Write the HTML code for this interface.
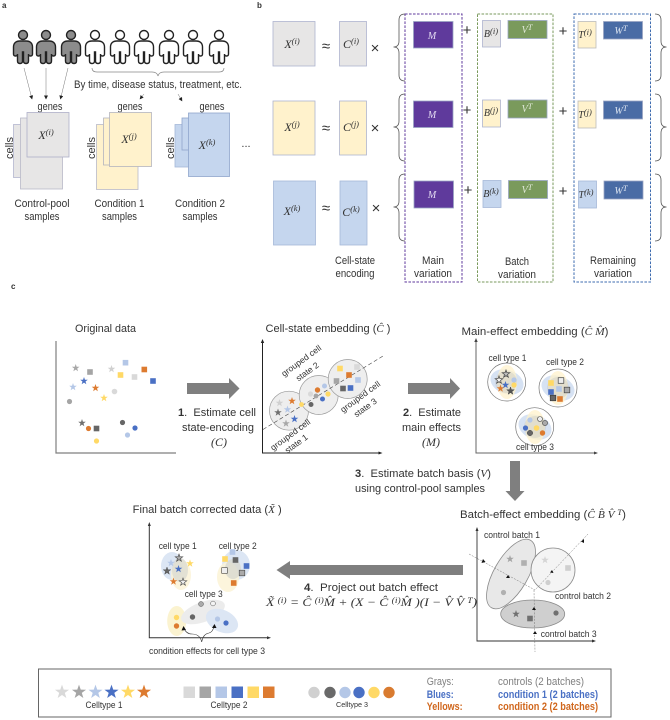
<!DOCTYPE html>
<html><head><meta charset="utf-8"><style>
html,body{margin:0;padding:0;background:#fff}
svg{display:block;filter:blur(.3px)}
text{font-family:"Liberation Sans",sans-serif;fill:#333;font-size:11px}
.m{text-anchor:middle}
.ser{font-family:"Liberation Serif",serif;font-style:italic;font-size:12px;text-anchor:middle}
.sup{font-size:8.5px}
.b{font-weight:bold}
.sm{font-size:9px}
.rot{font-size:8.5px;text-anchor:middle}
.op{font-size:15px}
</style></head><body>
<svg width="670" height="720" viewBox="0 0 670 720" xmlns="http://www.w3.org/2000/svg">
<defs>
<path id="s" d="M0,-4 .94,-1.29 3.8,-1.24 1.52,.49 2.35,3.24 0,1.6 -2.35,3.24 -1.52,.49 -3.8,-1.24 -.94,-1.29Z"/>
<rect id="q" x="-2.8" y="-2.8" width="5.6" height="5.6"/>
<path id="body" d="M-3,6 C-7,6 -9.5,8 -9.5,12 L-9.5,19 Q-9.5,21 -7.5,21 Q-5.5,21 -5.5,19 L-5.5,26 Q-5.5,28.5 -3,28.5 Q-.5,28.5 -.5,26 L-.5,17 L.5,17 L.5,26 Q.5,28.5 3,28.5 Q5.5,28.5 5.5,26 L5.5,19 Q5.5,21 7.5,21 Q9.5,21 9.5,19 L9.5,12 C9.5,8 7,6 3,6 Z"/>
<g id="pg" fill="#8c8c8c" stroke="#222" stroke-width="1.4"><circle r="4.5"/><use href="#body"/></g>
<g id="pw" fill="#fff" stroke="#222" stroke-width="1.4"><circle r="4.5"/><use href="#body"/></g>
<marker id="ah" markerWidth="4" markerHeight="4" refX="3.5" refY="2" orient="auto" markerUnits="userSpaceOnUse"><path d="M0,0 L4,2 L0,4Z" fill="#222"/></marker>
</defs>

<text x="2" y="8" class="b" style="font-size:8px">a</text>
<text x="257" y="8" class="b" style="font-size:8px">b</text>
<text x="11" y="289" class="b" style="font-size:8px">c</text>

<!-- panel a -->
<use href="#pg" x="23" y="35"/><use href="#pg" x="46" y="35"/><use href="#pg" x="71" y="35"/>
<use href="#pw" x="95" y="35"/><use href="#pw" x="120" y="35"/><use href="#pw" x="144" y="35"/><use href="#pw" x="169" y="35"/><use href="#pw" x="193" y="35"/><use href="#pw" x="219" y="35"/>
<g stroke="#777" stroke-width=".5" fill="none">
<line x1="24" y1="68" x2="32" y2="99" marker-end="url(#ah)"/>
<line x1="46" y1="68" x2="46" y2="99" marker-end="url(#ah)"/>
<line x1="68" y1="68" x2="60.5" y2="99" marker-end="url(#ah)"/>
<line x1="144" y1="94" x2="140" y2="99" marker-end="url(#ah)"/>
<line x1="178" y1="94" x2="182" y2="101" marker-end="url(#ah)"/>
<path d="M92,68 Q92,72 97,72 L152,72 Q157,72 158,76 Q159,72 164,72 L219,72 Q224,72 224,68" stroke="#888" stroke-width=".7"/>
</g>
<text x="74" y="88" textLength="168" lengthAdjust="spacingAndGlyphs">By time, disease status, treatment, etc.</text>
<text x="50" y="110" class="m" textLength="25" lengthAdjust="spacingAndGlyphs">genes</text>
<text x="130" y="110" class="m" textLength="25" lengthAdjust="spacingAndGlyphs">genes</text>
<text x="212" y="110" class="m" textLength="25" lengthAdjust="spacingAndGlyphs">genes</text>
<g stroke-width=".8">
<rect x="13.5" y="124.5" width="25" height="53" fill="#e7e6e6" stroke="#b4b7cf"/>
<rect x="20.5" y="118" width="42" height="71" fill="#e7e6e6" stroke="#b9b9c9"/>
<rect x="27" y="112.5" width="42" height="44.5" fill="#e7e6e6" stroke="#aeb0c9"/>
<rect x="96.5" y="124.5" width="41.5" height="65" fill="#fff2cc" stroke="#b9b9c9"/>
<rect x="103.5" y="118" width="30" height="47" fill="#fff2cc" stroke="#b4b4bf"/>
<rect x="109.5" y="112.5" width="42" height="54" fill="#fff2cc" stroke="#b4b4bf"/>
<rect x="175" y="124.5" width="25" height="42.5" fill="#c5d6ee" stroke="#a5b8d8"/>
<rect x="182" y="118" width="18" height="32" fill="#c5d6ee" stroke="#8fa6cc"/>
<rect x="188.5" y="113" width="41" height="63.5" fill="#c5d6ee" stroke="#8fa6cc"/>
</g>
<text class="ser" x="46" y="139">X<tspan class="sup" dy="-4">(i)</tspan></text>
<text class="ser" x="129" y="143">X<tspan class="sup" dy="-4">(j)</tspan></text>
<text class="ser" x="207" y="149">X<tspan class="sup" dy="-4">(k)</tspan></text>
<text transform="translate(13,148) rotate(-90)" class="m">cells</text>
<text transform="translate(95,148) rotate(-90)" class="m">cells</text>
<text transform="translate(174,148) rotate(-90)" class="m">cells</text>
<text x="246" y="147" class="m">...</text>
<text x="42" y="207" class="m" textLength="55" lengthAdjust="spacingAndGlyphs">Control-pool</text>
<text x="42" y="220" class="m" textLength="35" lengthAdjust="spacingAndGlyphs">samples</text>
<text x="119.5" y="207" class="m" textLength="50" lengthAdjust="spacingAndGlyphs">Condition 1</text>
<text x="119.5" y="220" class="m" textLength="35" lengthAdjust="spacingAndGlyphs">samples</text>
<text x="200" y="207" class="m" textLength="50" lengthAdjust="spacingAndGlyphs">Condition 2</text>
<text x="200" y="220" class="m" textLength="35" lengthAdjust="spacingAndGlyphs">samples</text>

<!-- panel b -->
<g stroke-width=".8">
<rect x="273" y="21.5" width="42" height="44.5" fill="#e7e6e6" stroke="#aeb4cf"/>
<rect x="339.5" y="21.5" width="27" height="44.5" fill="#e7e6e6" stroke="#aeb4cf"/>
<rect x="273" y="101" width="42" height="54" fill="#fff2cc" stroke="#aeb4cf"/>
<rect x="339.5" y="101" width="27" height="54" fill="#fff2cc" stroke="#aeb4cf"/>
<rect x="273.5" y="181" width="42" height="64" fill="#c5d6ee" stroke="#a5b8d8"/>
<rect x="340" y="181" width="27" height="64" fill="#c5d6ee" stroke="#a5b8d8"/>
<g fill="#5f3a9c" stroke="#9aa6c4">
<rect x="413.5" y="21.5" width="39.5" height="26.5"/><rect x="413.5" y="101" width="39.5" height="26.5"/><rect x="414" y="181" width="39.5" height="27"/>
</g>
<g fill="#7a9a5c" stroke="#9aa6c4">
<rect x="508" y="20.5" width="39" height="18"/><rect x="508" y="100" width="39" height="18"/><rect x="508.5" y="180.5" width="39" height="18"/>
</g>
<g fill="#4a6ca5" stroke="#9aa6c4">
<rect x="603.5" y="21.5" width="39" height="17.5"/><rect x="603.5" y="101" width="39" height="18"/><rect x="604" y="181" width="39" height="18"/>
</g>
<rect x="482.5" y="20.5" width="18" height="26.5" fill="#e7e6e6" stroke="#aeb4cf"/>
<rect x="482.5" y="100" width="18" height="27" fill="#fff2cc" stroke="#aeb4cf"/>
<rect x="483" y="180.5" width="18" height="27" fill="#c5d6ee" stroke="#a5b8d8"/>
<rect x="578" y="21.5" width="18" height="26.5" fill="#fff2cc" stroke="#bbb"/>
<rect x="578" y="101" width="18" height="27" fill="#fff2cc" stroke="#bbb"/>
<rect x="578.5" y="181" width="18" height="27" fill="#c5d6ee" stroke="#a5b8d8"/>
</g>
<g fill="none" stroke-width="1" stroke-dasharray="2.6 1.4">
<rect x="405" y="14" width="57" height="268" stroke="#5f3a9c"/>
<rect x="477.5" y="14" width="75.5" height="268" stroke="#7a9a5c"/>
<rect x="574" y="14" width="76.5" height="268" stroke="#3f6cb0"/>
</g>
<g fill="none" stroke="#555" stroke-width=".8">
<path d="M405,14 Q399,14 399,20 L399,41 Q399,47 393.5,47 Q399,47 399,53 L399,75 Q399,81 405,81"/>
<path d="M405,94 Q399,94 399,100 L399,121 Q399,127 393.5,127 Q399,127 399,133 L399,155 Q399,161 405,161"/>
<path d="M405,174 Q399,174 399,180 L399,201 Q399,207 393.5,207 Q399,207 399,213 L399,235 Q399,241 405,241"/>
<path d="M655,14 Q661,14 661,20 L661,41 Q661,47 666.5,47 Q661,47 661,53 L661,75 Q661,81 655,81"/>
<path d="M655,94 Q661,94 661,100 L661,121 Q661,127 666.5,127 Q661,127 661,133 L661,155 Q661,161 655,161"/>
<path d="M655,174 Q661,174 661,180 L661,201 Q661,207 666.5,207 Q661,207 661,213 L661,235 Q661,241 655,241"/>
</g>
<text class="ser" x="292" y="48">X<tspan class="sup" dy="-4">(i)</tspan></text>
<text class="ser" x="351" y="48">C<tspan class="sup" dy="-4">(i)</tspan></text>
<text class="ser" x="292" y="131">X<tspan class="sup" dy="-4">(j)</tspan></text>
<text class="ser" x="351" y="131">C<tspan class="sup" dy="-4">(j)</tspan></text>
<text class="ser" x="292" y="215">X<tspan class="sup" dy="-4">(k)</tspan></text>
<text class="ser" x="351" y="216">C<tspan class="sup" dy="-4">(k)</tspan></text>
<text x="326" y="51" class="m op">≈</text><text x="326" y="133" class="m op">≈</text><text x="326" y="213" class="m op">≈</text>
<text x="375" y="53" class="m op">×</text><text x="375" y="133" class="m op">×</text><text x="376" y="213" class="m op">×</text>
<text x="467" y="35" class="m op">+</text><text x="467" y="115" class="m op">+</text><text x="468" y="195" class="m op">+</text>
<text x="563" y="36" class="m op">+</text><text x="563" y="116" class="m op">+</text><text x="563" y="196" class="m op">+</text>
<text class="ser" x="432" y="39" style="fill:#e4dcf2;font-size:10px">M</text><text class="ser" x="432" y="118" style="fill:#e4dcf2;font-size:10px">M</text><text class="ser" x="432" y="198" style="fill:#e4dcf2;font-size:10px">M</text>
<text class="ser" x="527" y="33" style="fill:#dfe8d6;font-size:10px">V<tspan class="sup" dy="-3">T</tspan></text><text class="ser" x="527" y="112" style="fill:#dfe8d6;font-size:10px">V<tspan class="sup" dy="-3">T</tspan></text><text class="ser" x="527" y="193" style="fill:#dfe8d6;font-size:10px">V<tspan class="sup" dy="-3">T</tspan></text>
<text class="ser" x="621" y="34" style="fill:#dce4f0;font-size:10px">W<tspan class="sup" dy="-3">T</tspan></text><text class="ser" x="621" y="114" style="fill:#dce4f0;font-size:10px">W<tspan class="sup" dy="-3">T</tspan></text><text class="ser" x="621" y="194" style="fill:#dce4f0;font-size:10px">W<tspan class="sup" dy="-3">T</tspan></text>
<text class="ser" x="491" y="37" style="font-size:10px">B<tspan class="sup" dy="-3">(i)</tspan></text><text class="ser" x="491" y="116" style="font-size:10px">B<tspan class="sup" dy="-3">(j)</tspan></text><text class="ser" x="491" y="197" style="font-size:10px">B<tspan class="sup" dy="-3">(k)</tspan></text>
<text class="ser" x="585" y="38" style="font-size:10px">T<tspan class="sup" dy="-3">(i)</tspan></text><text class="ser" x="585" y="118" style="font-size:10px">T<tspan class="sup" dy="-3">(j)</tspan></text><text class="ser" x="586" y="198" style="font-size:10px">T<tspan class="sup" dy="-3">(k)</tspan></text>
<text x="355" y="264" class="m" textLength="40" lengthAdjust="spacingAndGlyphs">Cell-state</text>
<text x="355" y="277" class="m" textLength="39" lengthAdjust="spacingAndGlyphs">encoding</text>
<text x="433" y="264" class="m" textLength="22" lengthAdjust="spacingAndGlyphs">Main</text>
<text x="433" y="277" class="m" textLength="38" lengthAdjust="spacingAndGlyphs">variation</text>
<text x="517" y="265" class="m" textLength="24" lengthAdjust="spacingAndGlyphs">Batch</text>
<text x="517" y="278" class="m" textLength="38" lengthAdjust="spacingAndGlyphs">variation</text>
<text x="613" y="264" class="m" textLength="46" lengthAdjust="spacingAndGlyphs">Remaining</text>
<text x="613" y="277" class="m" textLength="38" lengthAdjust="spacingAndGlyphs">variation</text>

<!-- big arrows -->
<g fill="#7f7f7f">
<path d="M187,383 L229,383 L229,378 L239.5,388.5 L229,399 L229,394 L187,394Z"/>
<path d="M408,383 L450,383 L450,378 L460,388.5 L450,399 L450,394 L408,394Z"/>
<path d="M510,461 L520,461 L520,491 L524.5,491 L515,501 L505.5,491 L510,491Z"/>
<path d="M463,565 L290,565 L290,561 L276.5,570 L290,579 L290,575 L463,575Z"/>
</g>

<!-- original data -->
<text x="105.5" y="332" class="m" textLength="61" lengthAdjust="spacingAndGlyphs">Original data</text>
<path d="M56,341 L56,453 L176,453" fill="none" stroke="#7f7f7f" stroke-width="1.2"/>
<use href="#s" x="75.7" y="368" fill="#a8a8a8"/><use href="#q" x="90" y="372" fill="#a5a5a5"/><use href="#s" x="111.5" y="369" fill="#d0d0d0"/>
<use href="#q" x="125.5" y="362.7" fill="#b4c7e7"/><use href="#q" x="144.3" y="369.5" fill="#dd7b30"/><use href="#q" x="120.5" y="375" fill="#ffd966"/>
<use href="#q" x="134.5" y="377" fill="#d9d9d9"/><use href="#q" x="153" y="381" fill="#4a70c4"/><use href="#s" x="84" y="381" fill="#4a70c4"/>
<use href="#s" x="73" y="387" fill="#b4c7e7"/><use href="#s" x="95.5" y="388" fill="#dd7b30"/><circle cx="114.5" cy="391.5" r="2.8" fill="#d9d9d9"/>
<use href="#s" x="104" y="398" fill="#ffd966"/><circle cx="69.5" cy="401.5" r="2.6" fill="#a5a5a5"/>
<use href="#s" x="82" y="423" fill="#707070"/><circle cx="88.5" cy="428.5" r="2.6" fill="#dd7b30"/><use href="#q" x="96.5" y="428.5" fill="#666"/>
<circle cx="122.5" cy="422.5" r="2.6" fill="#666"/><circle cx="135" cy="428" r="2.6" fill="#4a70c4"/><circle cx="127.5" cy="435" r="2.6" fill="#b4c7e7"/><circle cx="96.5" cy="441" r="2.6" fill="#ffd966"/>

<text x="217" y="416" class="m" textLength="78" lengthAdjust="spacingAndGlyphs"><tspan class="b">1</tspan>.&#160;&#160;Estimate cell</text>
<text x="218" y="431" class="m" textLength="72" lengthAdjust="spacingAndGlyphs">state-encoding</text>
<text class="ser" x="219" y="446">(C)</text>

<!-- cell state -->
<text x="328" y="332" class="m" textLength="125" lengthAdjust="spacingAndGlyphs">Cell-state embedding (<tspan style="font-family:'Liberation Serif';font-style:italic">Ĉ</tspan> )</text>
<path d="M262.5,341 L262.5,453 L381,453" fill="none" stroke="#222" stroke-width="1"/>
<path d="M262.5,339 L260.8,343 L264.2,343Z" fill="#222"/><path d="M382.5,453 L378.5,451.5 L378.5,454.5Z" fill="#222"/>
<g fill="#eeeeee" stroke="#9a9a9a" stroke-width=".7">
<circle cx="289" cy="410.7" r="19.5"/><circle cx="318.7" cy="395" r="19.5"/><circle cx="347.7" cy="379" r="19.5"/>
</g>
<line x1="263" y1="429.5" x2="383" y2="356" stroke="#444" stroke-width=".6" stroke-dasharray="4 2.5"/>
<use href="#s" x="279.5" y="403" fill="#d0d0d0"/><use href="#s" x="292" y="401" fill="#dd7b30"/><use href="#s" x="278" y="412.5" fill="#707070"/>
<use href="#s" x="287.5" y="409.5" fill="#b4c7e7"/><use href="#s" x="294.5" y="419" fill="#4a70c4"/><use href="#s" x="286" y="423.5" fill="#a8a8a8"/>
<circle cx="301.5" cy="404.5" r="2.4" fill="#ffd966"/><circle cx="310.5" cy="394" r="2.6" fill="#d9d9d9"/><circle cx="316" cy="396" r="2.4" fill="#a5a5a5"/>
<circle cx="317.5" cy="390" r="2.7" fill="#dd7b30"/><circle cx="324.5" cy="386" r="2.5" fill="#b4c7e7"/><circle cx="328" cy="394" r="2.6" fill="#ffd966"/>
<circle cx="322.5" cy="399" r="2.5" fill="#4a70c4"/><circle cx="311" cy="404.5" r="2.5" fill="#666"/>
<use href="#q" x="340" y="368.5" fill="#ffd966"/><use href="#q" x="357" y="367" fill="#d9d9d9"/><use href="#q" x="349" y="375" fill="#dd7b30"/>
<use href="#q" x="336.5" y="381" fill="#a5a5a5"/><use href="#q" x="358" y="380" fill="#b4c7e7"/><use href="#q" x="343" y="388.5" fill="#666"/><use href="#q" x="350.5" y="388" fill="#4a70c4"/>
<text class="rot" transform="translate(303,363) rotate(-36)" textLength="47" lengthAdjust="spacingAndGlyphs">grouped cell</text>
<text class="rot" transform="translate(309,374) rotate(-36)" textLength="26" lengthAdjust="spacingAndGlyphs">state 2</text>
<text class="rot" transform="translate(362,399) rotate(-36)" textLength="47" lengthAdjust="spacingAndGlyphs">grouped cell</text>
<text class="rot" transform="translate(367,410) rotate(-36)" textLength="26" lengthAdjust="spacingAndGlyphs">state 3</text>
<text class="rot" transform="translate(292,437) rotate(-36)" textLength="47" lengthAdjust="spacingAndGlyphs">grouped cell</text>
<text class="rot" transform="translate(298,446) rotate(-36)" textLength="26" lengthAdjust="spacingAndGlyphs">state 1</text>

<text x="432" y="416" class="m" textLength="58" lengthAdjust="spacingAndGlyphs"><tspan class="b">2</tspan>.&#160;&#160;Estimate</text>
<text x="431.5" y="431" class="m" textLength="59" lengthAdjust="spacingAndGlyphs">main effects</text>
<text class="ser" x="431" y="446">(M)</text>

<!-- main effect -->
<text x="535" y="335" class="m" textLength="147" lengthAdjust="spacingAndGlyphs">Main-effect embedding (<tspan style="font-family:'Liberation Serif';font-style:italic">Ĉ M̂</tspan>)</text>
<path d="M476,340 L476,453 L596,453" fill="none" stroke="#666" stroke-width="1"/>
<path d="M476,338 L474.3,342 L477.7,342Z" fill="#444"/><path d="M598,453 L594,451.5 L594,454.5Z" fill="#444"/>
<g fill="#fff" stroke="#777" stroke-width=".7"><circle cx="506.7" cy="382" r="19"/><circle cx="558" cy="388" r="19"/><circle cx="534.7" cy="426.7" r="19"/></g>
<g fill="#c5d6ee" opacity=".7"><ellipse cx="507" cy="382" rx="17" ry="12" transform="rotate(20 507 382)"/><ellipse cx="558" cy="388" rx="17" ry="12" transform="rotate(20 558 388)"/><ellipse cx="535" cy="427" rx="17" ry="12" transform="rotate(20 535 427)"/></g>
<g fill="#fff2cc" opacity=".75"><ellipse cx="507" cy="382" rx="10" ry="17"/><ellipse cx="558" cy="388" rx="10" ry="17"/><ellipse cx="535" cy="427" rx="10" ry="17"/></g>
<g fill="#bbb" opacity=".3"><circle cx="506" cy="382" r="11"/><circle cx="558" cy="388" r="11"/><circle cx="535" cy="427" r="11"/></g>
<text x="507.5" y="361" class="m sm" textLength="38" lengthAdjust="spacingAndGlyphs">cell type 1</text>
<text x="565" y="365" class="m sm" textLength="38" lengthAdjust="spacingAndGlyphs">cell type 2</text>
<text x="535" y="450" class="m sm" textLength="38" lengthAdjust="spacingAndGlyphs">cell type 3</text>
<circle cx="514" cy="380" r="2.6" fill="#b4c7e7"/><circle cx="514" cy="385" r="2.6" fill="#ffd966"/>
<use href="#s" x="506" y="374" fill="#bbb" stroke="#444" stroke-width=".7"/><use href="#s" x="499" y="380" fill="#f4f4f4" stroke="#444" stroke-width=".7"/>
<use href="#s" x="500.5" y="388.5" fill="#dd7b30"/><use href="#s" x="505.5" y="385" fill="#4a70c4"/><use href="#s" x="510.5" y="391" fill="#555" stroke="#333" stroke-width=".4"/>
<use href="#q" x="551" y="383" fill="#ffd966"/><use href="#q" x="561" y="380.5" fill="#eee" stroke="#444" stroke-width=".7"/><use href="#q" x="567" y="390" fill="#aaa" stroke="#444" stroke-width=".7"/>
<use href="#q" x="559" y="389" fill="#b4c7e7"/><use href="#q" x="551" y="392" fill="#4a70c4"/><use href="#q" x="553" y="398" fill="#666" stroke="#333" stroke-width=".6"/><use href="#q" x="560" y="399" fill="#dd7b30"/>
<circle cx="530" cy="420" r="2.6" fill="#b4c7e7"/><circle cx="540" cy="419" r="2.5" fill="#eee" stroke="#444" stroke-width=".6"/><circle cx="545" cy="423" r="2.6" fill="#aaa" stroke="#444" stroke-width=".6"/>
<circle cx="525.5" cy="428" r="2.6" fill="#4a70c4"/><circle cx="536.5" cy="428" r="2.8" fill="#ffd966"/><circle cx="530" cy="433" r="2.7" fill="#666" stroke="#444" stroke-width=".5"/><circle cx="542.5" cy="433" r="2.7" fill="#dd7b30"/>

<!-- step 3 -->
<text x="355" y="477" textLength="136" lengthAdjust="spacingAndGlyphs"><tspan class="b">3</tspan>.&#160;&#160;Estimate batch basis (<tspan style="font-family:'Liberation Serif';font-style:italic">V</tspan>)</text>
<text x="355" y="492" textLength="130" lengthAdjust="spacingAndGlyphs">using control-pool samples</text>

<!-- batch effect -->
<text x="460" y="518" textLength="166" lengthAdjust="spacingAndGlyphs">Batch-effect embedding (<tspan style="font-family:'Liberation Serif';font-style:italic">Ĉ B̂ V̂ <tspan class="sup" dy="-3">T</tspan></tspan><tspan dy="3">)</tspan></text>
<path d="M477,529 L477,641 L594,641" fill="none" stroke="#333" stroke-width=".9"/>
<path d="M477,527 L475.5,531 L478.5,531Z" fill="#333"/><path d="M596,641 L592,639.5 L592,642.5Z" fill="#333"/>
<g stroke="#8a8a8a" stroke-width=".8">
<ellipse cx="511" cy="574" rx="39" ry="17" fill="#e8e8e8" transform="rotate(-60 511 574)"/>
<ellipse cx="553" cy="570" rx="22" ry="22" fill="#f4f4f4"/>
<ellipse cx="532.7" cy="614" rx="32" ry="14" fill="#cfcfcf"/>
</g>
<g fill="none" stroke="#777" stroke-width=".5" stroke-dasharray="2 1.2">
<path d="M469,554 L535,590 L588,534"/><path d="M534,590 L535,652"/>
</g>
<g fill="#111">
<path d="M483,559 L485.5,562 L481.5,563Z"/><path d="M508,575 L510,578 L506,578Z"/><path d="M552,570 L553.5,573 L550,572.5Z"/><path d="M584,539 L584,543 L581,541.5Z"/><path d="M534,607 L536,610 L532,610Z"/><path d="M535,631 L537,634 L533,634Z"/>
</g>
<use href="#s" x="510" y="559" fill="#a5a5a5"/><use href="#q" x="524" y="563" fill="#b0b0b0"/><circle cx="503.5" cy="592.5" r="2.6" fill="#b0b0b0"/>
<use href="#s" x="545" y="560" fill="#d5d5d5"/><use href="#q" x="568" y="568" fill="#cfcfcf"/><circle cx="548" cy="582.5" r="2.6" fill="#cfcfcf"/>
<use href="#s" x="516" y="614" fill="#707070"/><use href="#q" x="530" y="618.5" fill="#707070"/><circle cx="556" cy="613" r="2.6" fill="#707070"/>
<text x="484" y="538" class="sm" textLength="56" lengthAdjust="spacingAndGlyphs">control batch 1</text>
<text x="555" y="599" class="sm" textLength="56" lengthAdjust="spacingAndGlyphs">control batch 2</text>
<text x="540.7" y="637" class="sm" textLength="56" lengthAdjust="spacingAndGlyphs">control batch 3</text>

<!-- step 4 -->
<text x="371" y="591" class="m" textLength="134" lengthAdjust="spacingAndGlyphs"><tspan class="b">4</tspan>.&#160;&#160;Project out batch effect</text>
<text x="266" y="606" style="font-family:'Liberation Serif',serif;font-style:italic;font-size:12px" textLength="211" lengthAdjust="spacingAndGlyphs">X̃ <tspan class="sup" dy="-3">(i)</tspan><tspan dy="3"> = Ĉ </tspan><tspan class="sup" dy="-3">(i)</tspan><tspan dy="3">M̂ + (X − Ĉ </tspan><tspan class="sup" dy="-3">(i)</tspan><tspan dy="3">M̂ )(I − V̂ V̂ </tspan><tspan class="sup" dy="-3">T</tspan><tspan dy="3">)</tspan></text>

<!-- final -->
<text x="132.7" y="513" textLength="149" lengthAdjust="spacingAndGlyphs">Final batch corrected data (<tspan style="font-family:'Liberation Serif';font-style:italic">X̃</tspan> )</text>
<path d="M149.3,524 L149.3,637.7 L269,637.7" fill="none" stroke="#333" stroke-width="1"/>
<path d="M149.3,522 L147.8,526 L150.8,526Z" fill="#333"/><path d="M271,637.7 L267,636.2 L267,639.2Z" fill="#333"/>
<ellipse cx="172" cy="566" rx="11" ry="14" fill="#dce6f4"/>
<ellipse cx="181" cy="575" rx="10" ry="15" fill="#fbf3d6" opacity=".8"/>
<ellipse cx="180" cy="570" rx="8" ry="12" fill="#d8d8d0" opacity=".7"/>
<ellipse cx="236" cy="565" rx="14" ry="15" fill="#dce6f4"/>
<ellipse cx="228" cy="577" rx="11" ry="15" fill="#fbf3d6" opacity=".85"/>
<ellipse cx="233" cy="569" rx="8" ry="10" fill="#d8d8d0" opacity=".8"/>
<ellipse cx="176.7" cy="621" rx="9.5" ry="15" fill="#fbf3d0"/>
<ellipse cx="203" cy="612" rx="23" ry="10" fill="#ececec" transform="rotate(-20 203 612)"/>
<ellipse cx="222" cy="621" rx="17" ry="11" fill="#dce6f4" transform="rotate(25 222 621)"/>
<text x="177.7" y="549" class="m sm" textLength="38" lengthAdjust="spacingAndGlyphs">cell type 1</text>
<text x="237.7" y="549" class="m sm" textLength="38" lengthAdjust="spacingAndGlyphs">cell type 2</text>
<text x="203.7" y="597" class="m sm" textLength="38" lengthAdjust="spacingAndGlyphs">cell type 3</text>
<text x="207" y="654" class="m sm" textLength="116" lengthAdjust="spacingAndGlyphs">condition effects for cell type 3</text>
<use href="#s" x="179" y="558" fill="#aaa" stroke="#444" stroke-width=".6"/><use href="#s" x="171" y="563" fill="#b4c7e7"/><use href="#s" x="190" y="563.5" fill="#ffd966"/>
<use href="#s" x="167" y="571" fill="#666" stroke="#444" stroke-width=".4"/><use href="#s" x="178.5" y="569" fill="#4a70c4"/><use href="#s" x="173.5" y="581.5" fill="#dd7b30"/><use href="#s" x="183" y="582" fill="#eee" stroke="#444" stroke-width=".6"/>
<use href="#q" x="232.5" y="552" fill="#b4c7e7"/><use href="#q" x="225" y="559" fill="#ffd966"/><use href="#q" x="235.5" y="560" fill="#666"/><use href="#q" x="246.5" y="566" fill="#4a70c4"/>
<use href="#q" x="224.5" y="570.5" fill="#eee" stroke="#444" stroke-width=".6"/><use href="#q" x="242" y="573" fill="#aaa" stroke="#444" stroke-width=".6"/><use href="#q" x="233.7" y="583" fill="#dd7b30"/>
<circle cx="201" cy="604" r="2.5" fill="#aaa" stroke="#555" stroke-width=".5"/><circle cx="213" cy="603.5" r="2.4" fill="#f4f4f4" stroke="#555" stroke-width=".5"/><circle cx="192.5" cy="617" r="2.7" fill="#666"/>
<circle cx="176.5" cy="617.5" r="2.7" fill="#ffd966"/><circle cx="176.5" cy="626" r="2.7" fill="#dd7b30"/><circle cx="217.5" cy="619" r="2.6" fill="#b4c7e7"/><circle cx="226" cy="623" r="2.6" fill="#4a70c4"/>
<path d="M201.7,642 Q200,634 192,634 Q186,634 184,628" fill="none" stroke="#333" stroke-width=".6"/>
<path d="M201.7,642 Q203,634 209,633 Q213,632 214,626" fill="none" stroke="#333" stroke-width=".6"/>
<path d="M183.5,626 L186,630 L181.5,630.5Z" fill="#111"/><path d="M214.5,624 L216.5,628 L212,628Z" fill="#111"/>

<!-- legend -->
<rect x="38.5" y="669" width="572.5" height="48" fill="#fff" stroke="#666" stroke-width="1"/>
<use href="#s" transform="translate(62,692) scale(1.85)" fill="#d9d9d9"/>
<use href="#s" transform="translate(79,692) scale(1.85)" fill="#a5a5a5"/>
<use href="#s" transform="translate(95.5,692) scale(1.85)" fill="#b4c7e7"/>
<use href="#s" transform="translate(111.5,692) scale(1.85)" fill="#4a70c4"/>
<use href="#s" transform="translate(128,692) scale(1.85)" fill="#ffd966"/>
<use href="#s" transform="translate(144,692) scale(1.85)" fill="#dd7b30"/>
<rect x="183.5" y="686.5" width="11.5" height="11.5" fill="#d9d9d9"/><rect x="199.5" y="686.5" width="11.5" height="11.5" fill="#a5a5a5"/>
<rect x="215.5" y="686.5" width="11.5" height="11.5" fill="#b4c7e7"/><rect x="231.5" y="686.5" width="11.5" height="11.5" fill="#4a70c4"/>
<rect x="247.5" y="686.5" width="11.5" height="11.5" fill="#ffd966"/><rect x="263" y="686.5" width="11.5" height="11.5" fill="#dd7b30"/>
<circle cx="314" cy="692.5" r="5.7" fill="#d0d0d0"/><circle cx="330" cy="692.5" r="5.7" fill="#696969"/><circle cx="345" cy="692.5" r="5.7" fill="#b4c7e7"/>
<circle cx="359" cy="692.5" r="5.7" fill="#4a70c4"/><circle cx="374" cy="692.5" r="5.7" fill="#ffd966"/><circle cx="389" cy="692.5" r="5.7" fill="#d97b30"/>
<text x="104" y="708" class="m sm" textLength="37" lengthAdjust="spacingAndGlyphs">Celltype 1</text>
<text x="229" y="708" class="m sm" textLength="37" lengthAdjust="spacingAndGlyphs">Celltype 2</text>
<text x="352" y="707" class="m" style="font-size:7px" textLength="32" lengthAdjust="spacingAndGlyphs">Celltype 3</text>
<text x="426.7" y="685" style="fill:#7f7f7f" textLength="27" lengthAdjust="spacingAndGlyphs">Grays:</text>
<text x="426.7" y="698" class="b" style="fill:#4a70c4" textLength="27" lengthAdjust="spacingAndGlyphs">Blues:</text>
<text x="426.7" y="710" class="b" style="fill:#d0661c" textLength="36" lengthAdjust="spacingAndGlyphs">Yellows:</text>
<text x="498" y="685" style="fill:#7f7f7f" textLength="86" lengthAdjust="spacingAndGlyphs">controls (2 batches)</text>
<text x="498" y="698" class="b" style="fill:#4a70c4" textLength="100" lengthAdjust="spacingAndGlyphs">condition 1 (2 batches)</text>
<text x="498" y="710" class="b" style="fill:#d0661c" textLength="100" lengthAdjust="spacingAndGlyphs">condition 2 (2 batches)</text>
</svg>
</body></html>
